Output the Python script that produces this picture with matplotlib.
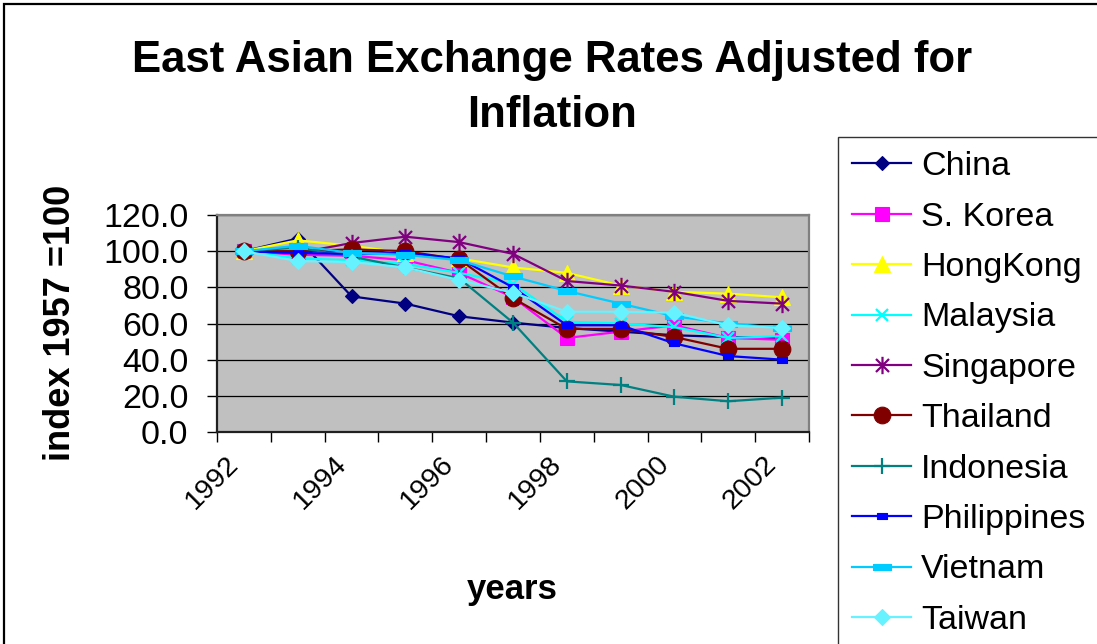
import matplotlib
matplotlib.use("Agg")
import matplotlib.pyplot as plt
from matplotlib.path import Path
from matplotlib.patches import Rectangle
from matplotlib.ticker import FixedLocator, FormatStrFormatter, NullFormatter

plt.rcParams["font.family"] = ["Liberation Sans", "DejaVu Sans"]

# ---- data -------------------------------------------------------------
years = [1992, 1993, 1994, 1995, 1996, 1997, 1998, 1999, 2000, 2001, 2002]
year_labels = ["1992", "1994", "1996", "1998", "2000", "2002"]

china = [100, 107, 75, 71, 64, 60.5, 57.5, 55.5, 53.5, 52.5, 52]
s_korea = [100, 98, 97.5, 95, 88, 74.5, 52, 55.5, 59, 52, 51]
hongkong = [100, 106, 103, 99, 96, 91, 88, 81, 77.5, 76.5, 74.5]
malaysia = [100, 96, 95, 93, 88, 82, 61, 60, 58, 52, 53]
singapore = [100, 99, 104.5, 108, 105, 98.5, 83.5, 81, 77.5, 72.5, 71]
thailand = [100, 100, 101, 100, 95.5, 74, 57, 57, 52.5, 46, 46]
indonesia = [100, 102, 97, 91, 85, 60.5, 28, 26, 19.5, 17, 19]
philippines = [100, 99, 98.5, 99, 96, 80, 59, 59, 49, 42, 40]
vietnam = [100, 103, 99, 98, 95, 86, 78, 71, 64, 60, 57.5]
taiwan = [100, 94.5, 94, 91, 84, 77, 66.5, 66.5, 66, 59, 57.5]

# ---- custom markers ----------------------------------------------------
asterisk = Path(
    [(-0.75, -0.75), (0.75, 0.75), (-0.75, 0.75), (0.75, -0.75), (0, -1), (0, 1)],
    [Path.MOVETO, Path.LINETO, Path.MOVETO, Path.LINETO, Path.MOVETO, Path.LINETO],
)
small_bar = Path(
    [(-1, -0.55), (1, -0.55), (1, 0.55), (-1, 0.55), (-1, -0.55)],
    [Path.MOVETO, Path.LINETO, Path.LINETO, Path.LINETO, Path.CLOSEPOLY],
)
wide_bar = Path(
    [(-1, -0.33), (1, -0.33), (1, 0.33), (-1, 0.33), (-1, -0.33)],
    [Path.MOVETO, Path.LINETO, Path.LINETO, Path.LINETO, Path.CLOSEPOLY],
)

series = [
    ("China", china, "#000080", "D", 7.5),
    ("S. Korea", s_korea, "#FF00FF", "s", 10.5),
    ("HongKong", hongkong, "#FFFF00", "^", 11.5),
    ("Malaysia", malaysia, "#00FFFF", "x", 8.5),
    ("Singapore", singapore, "#800080", asterisk, 12.5),
    ("Thailand", thailand, "#800000", "o", 12),
    ("Indonesia", indonesia, "#008080", "+", 11),
    ("Philippines", philippines, "#0000FF", small_bar, 7),
    ("Vietnam", vietnam, "#00CCFF", wide_bar, 13),
    ("Taiwan", taiwan, "#66F2FF", "D", 8),
]

W, H = 1097, 644
fig = plt.figure(figsize=(W / 100, H / 100), dpi=100)
fig.patch.set_facecolor("white")

# outer chart frame
fig.add_artist(Rectangle((4 / W, -0.05), 1.2, (H - 4) / H + 0.05,
                         transform=fig.transFigure, fill=False,
                         edgecolor="black", linewidth=1.6, clip_on=False))

left, right, top, bottom = 217, 809, 215, 432
ax = fig.add_axes([left / W, 1 - bottom / H, (right - left) / W, (bottom - top) / H])
ax.set_facecolor("#C0C0C0")

x = list(range(len(years)))
handles = []
for name, vals, color, marker, ms in series:
    open_marker = marker in ("x", "+") or marker is asterisk
    (ln,) = ax.plot(
        x, vals, color=color, linewidth=1.6, marker=marker, markersize=ms,
        markerfacecolor="none" if open_marker else color,
        markeredgecolor=color, markeredgewidth=1.6 if open_marker else 0.8,
        label=name, clip_on=False, zorder=3,
    )
    handles.append(ln)

ax.set_xlim(-0.5, len(years) - 0.5)
ax.set_ylim(0, 120)

# y axis
ax.yaxis.set_major_locator(FixedLocator(range(0, 121, 20)))
ax.yaxis.set_major_formatter(FormatStrFormatter("%.1f"))
ax.grid(axis="y", color="black", linewidth=0.9, zorder=1)
ax.set_axisbelow(True)

# x axis: ticks between categories, labels on every other year
ax.xaxis.set_major_locator(FixedLocator([i - 0.5 for i in range(len(years) + 1)]))
ax.xaxis.set_major_formatter(NullFormatter())
ax.xaxis.set_minor_locator(FixedLocator(x[::2]))
ax.set_xticklabels(year_labels, minor=True, rotation=45, ha="right", va="top")

ax.tick_params(axis="both", which="major", direction="out", length=7,
               width=1.0, color="black", labelsize=24.5)
ax.tick_params(axis="y", pad=13.5)
ax.tick_params(axis="x", which="minor", length=0, pad=14, labelsize=20.5)

for side in ("left", "bottom"):
    ax.spines[side].set_color("#202020")
    ax.spines[side].set_linewidth(1.6)
for side in ("top", "right"):
    ax.spines[side].set_color("#808080")
    ax.spines[side].set_linewidth(1.6)

# titles
fig.text(552 / W, 1 - 88 / H, "East Asian Exchange Rates Adjusted for\nInflation",
         ha="center", va="center", fontsize=31.5, fontweight="bold", linespacing=1.42)
fig.text(60 / W, 1 - 323 / H, "index 1957 =100", rotation=90, ha="center",
         va="center", fontsize=26, fontweight="bold")
fig.text(512 / W, 1 - 590 / H, "years", ha="center", va="center",
         fontsize=25, fontweight="bold")

leg = fig.legend(
    handles=handles, loc="upper left",
    bbox_to_anchor=(838 / W, 1 - 137 / H), bbox_transform=fig.transFigure,
    frameon=True, fancybox=False, shadow=False, borderaxespad=0,
    borderpad=0.42, handlelength=1.72, handletextpad=0.3, labelspacing=0.57,
    numpoints=1, fontsize=24.5,
)
leg.get_frame().set_edgecolor("black")
leg.get_frame().set_linewidth(1.0)

fig.savefig("out.png", dpi=100)
